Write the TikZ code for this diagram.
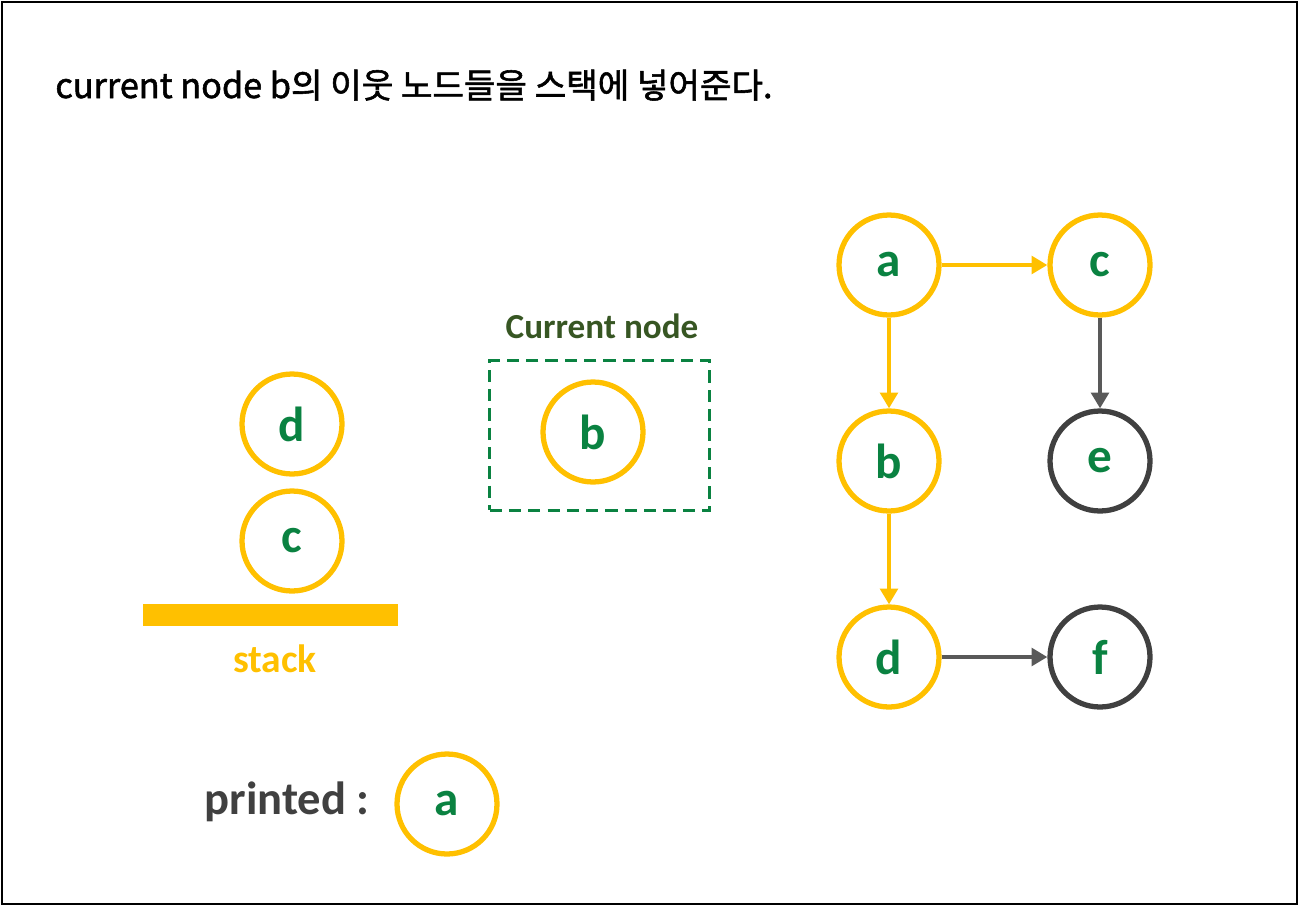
\documentclass[tikz,border=0pt]{standalone}
\usepackage{fontspec}
\setmainfont{Carlito}
\newfontfamily\krfont[FakeBold=1.6]{Noto Sans CJK KR}
\usepackage{tikz}
\usetikzlibrary{arrows.meta,positioning}

\definecolor{nodeyellow}{HTML}{FFC000}
\definecolor{lblgreen}{HTML}{0A8241}
\definecolor{olivegreen}{HTML}{375623}
\definecolor{darkgray}{HTML}{404040}
\definecolor{arrowgray}{HTML}{595959}

\begin{document}
\begin{tikzpicture}[x=0.02cm, y=-0.02cm, font=\bfseries,
    vertex/.style={ draw=nodeyellow, circle, line width=3pt, minimum
        size=2.0cm, inner sep=0pt, text=lblgreen, font=\fontsize{28}{32}\selectfont\bfseries },
    unvisited/.style={ vertex, draw=darkgray },
    arrow/.style={ -{Triangle[length=9pt,width=10pt]}, line width=2.3pt, draw=nodeyellow },
    grayarrow/.style={ arrow, draw=arrowgray } ]

    \useasboundingbox (0,0) rectangle (1300,906);
    \draw[line width=1.2pt] (2,2) rectangle (1297,904);

    \node[anchor=base west, inner sep=0pt, font=\krfont\fontsize{19.5}{24}\selectfont] (title) at (55,98)
    {current node b의 이웃 노드들을 스택에 넣어준다.};

    \node[vertex]    (a) at (889,265) {a}; \node[vertex] (c) at (1100,265) {c};
    \node[vertex]    (b) at (889,461) {b}; \node[unvisited] (e) at (1100,461) {e};
    \node[vertex]    (d) at (889,657) {d}; \node[unvisited] (f) at (1100,657) {f};

    \draw[arrow] (a) -- (c); \draw[arrow] (a) -- (b); \draw[arrow] (b) -- (d);
    \draw[grayarrow] (c) -- (e); \draw[grayarrow] (d) -- (f);

    \node[vertex] (curb) at (593,432) {b};
    \node[draw=lblgreen, dashed, line width=1.7pt, dash pattern=on 7pt off 4pt,
        minimum width=4.4cm, minimum height=3.0cm] (curbox) at (599.5,435.5) {};
    \node[text=olivegreen, font=\fontsize{20}{24}\selectfont\bfseries] (curlabel) at (602,326)
    {Current node};

    \node[vertex] (stackc) at (292,541) {c};
    \node[vertex] (stackd) at (292,424) {d};
    \node[fill=nodeyellow, minimum width=5.1cm, minimum height=0.44cm, inner sep=0pt]
    (bar) at (270.5,615) {};
    \node[text=nodeyellow, font=\fontsize{22.5}{26}\selectfont\bfseries] (stacklabel) at (275,659)
    {stack};

    \node[text=darkgray, font=\fontsize{26.5}{30}\selectfont\bfseries] (printed) at (287,802)
    {printed :};
    \node[vertex] (printa) at (447,804) {a};

\end{tikzpicture}
\end{document}
